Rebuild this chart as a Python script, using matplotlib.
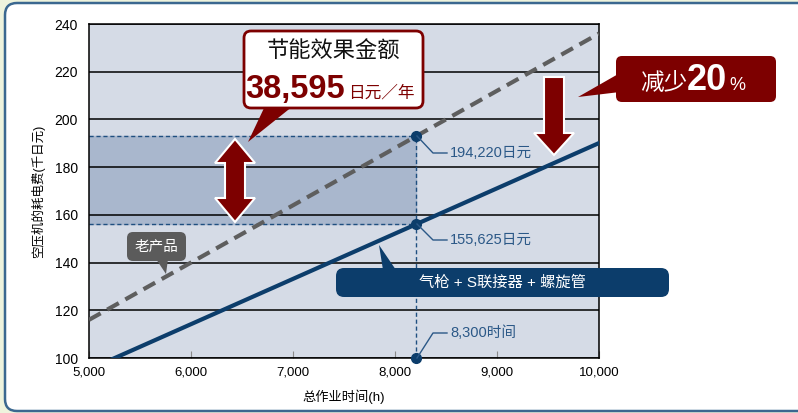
import matplotlib.pyplot as plt
from matplotlib.patches import FancyBboxPatch, Polygon

plt.rcParams['font.family'] = ['Liberation Sans', 'Noto Sans CJK SC']

# data
hours = [5000, 10000]
old_cost = [116, 236]        # 老产品 (千日元)
new_cost = [95.2, 190.1]     # 气枪 + S联接器 + 螺旋管
mark_hour = 8210             # where the 8,300h marker is drawn
mark_old = 193.2
mark_new = 156.0
x_ticks = [5000, 6000, 7000, 8000, 9000, 10000]
x_labels = ['5,000', '6,000', '7,000', '8,000', '9,000', '10,000']
y_ticks = [100, 120, 140, 160, 180, 200, 220, 240]

navy = '#0c3d6b'
red = '#7d0000'
lbl = '#2b5887'

fig = plt.figure(figsize=(7.98, 4.13), dpi=100)
fig.patch.set_facecolor('#eef3dd')

# background frame (pixel coords)
bg = fig.add_axes([0, 0, 1, 1], zorder=0)
bg.set_xlim(0, 798)
bg.set_ylim(413, 0)
bg.axis('off')
bg.add_patch(FancyBboxPatch((5, 3), 810, 408, boxstyle='round,pad=0,rounding_size=12',
                            fc='white', ec='#3b6890', lw=1.8))

ax = fig.add_axes([89/798, 55/413, 510/798, 334/413], zorder=1)
ax.set_facecolor('#d5dbe6')
ax.set_xlim(5000, 10000)
ax.set_ylim(100, 240)
ax.set_axisbelow(True)
ax.yaxis.grid(True, color='black', lw=1.1)
for s in ax.spines.values():
    s.set_color('black')
    s.set_linewidth(1.1)

# shaded saving band
ax.fill_between([5000, mark_hour], mark_new, mark_old, color='#a9b7cd', zorder=0.2)
ax.plot([5000, mark_hour], [mark_old, mark_old], color='#1f4f80', lw=1, dashes=(3, 2), zorder=2)
ax.plot([5000, mark_hour], [mark_new, mark_new], color='#1f4f80', lw=1, dashes=(3, 2), zorder=2)
ax.plot([mark_hour, mark_hour], [100, mark_old], color='#1f4f80', lw=1, dashes=(3, 2), zorder=2)

ax.plot(hours, old_cost, color='#5e5e5e', lw=3, dashes=(3.2, 1.8), zorder=3)
ax.plot(hours, new_cost, color=navy, lw=3, zorder=3)
ax.plot([mark_hour] * 3, [mark_old, mark_new, 100], 'o', color=navy, ms=7,
        clip_on=False, zorder=4)

ax.set_xticks(x_ticks)
ax.set_xticklabels(x_labels, fontsize=9.5)
ax.set_yticks(y_ticks)
ax.set_yticklabels([str(v) for v in y_ticks], fontsize=10)
ax.tick_params(axis='x', direction='in', length=5, color='#8a8a8a', pad=6)
ax.tick_params(axis='y', length=0, pad=8)
ax.set_xlabel('总作业时间(h)', fontsize=9.5, labelpad=8)
ax.set_ylabel('空压机的耗电费(千日元)', fontsize=9, labelpad=7)

# overlay for callouts (pixel coords)
ov = fig.add_axes([0, 0, 1, 1], zorder=2)
ov.set_xlim(0, 798)
ov.set_ylim(413, 0)
ov.axis('off')

# leader labels
for y0, y1, txt in [(136, 153, '194,220日元'), (224, 240, '155,625日元'), (358, 333, '8,300时间')]:
    ov.plot([417, 433, 447], [y0, y1, y1], color=lbl, lw=1)
    ov.text(450, y1, txt, color=lbl, fontsize=10.5, va='center', ha='left')

# saving callout
ov.add_patch(Polygon([(265, 106), (293, 106), (248, 142)], closed=True, fc=red, ec='none'))
ov.add_patch(FancyBboxPatch((244, 31), 179, 77, boxstyle='round,pad=0,rounding_size=7',
                            fc='white', ec=red, lw=2))
ov.text(334, 52, '节能效果金额', fontsize=16, ha='center', va='center', color='#111111')
ov.text(245, 98, '38,595', fontsize=23.5, fontweight='bold', color=red, ha='left', va='baseline')
ov.text(348, 98, '日元／年', fontsize=12, color=red, ha='left', va='baseline')

# double arrow
ov.add_patch(Polygon([(235, 139), (255, 163), (245, 163), (245, 198), (255, 198), (235, 222),
                      (215, 198), (225, 198), (225, 163), (215, 163)],
                     closed=True, fc=red, ec='white', lw=1.5))

# down arrow
ov.add_patch(Polygon([(544, 77), (564, 77), (564, 133), (574, 133), (554, 155), (534, 133),
                      (544, 133)], closed=True, fc=red, ec='white', lw=1.5))

# 减少20% box
ov.add_patch(Polygon([(620, 73), (620, 92), (578, 97)], closed=True, fc=red, ec='none'))
ov.add_patch(FancyBboxPatch((616, 56), 160, 46, boxstyle='round,pad=0,rounding_size=6',
                            fc=red, ec='none'))
ov.text(640, 90, '减少', fontsize=17, color='white', ha='left', va='baseline')
ov.text(687, 90, '20', fontsize=26, fontweight='bold', color='white', ha='left', va='baseline')
ov.text(729, 90, '%', fontsize=13, color='white', ha='left', va='baseline')

# 老产品 box
ov.add_patch(Polygon([(156, 259), (168, 259), (166, 274)], closed=True, fc='#5b5b5b', ec='none'))
ov.add_patch(FancyBboxPatch((127, 232), 59, 29, boxstyle='round,pad=0,rounding_size=6',
                            fc='#5b5b5b', ec='none'))
ov.text(156, 247, '老产品', fontsize=10.5, color='white', ha='center', va='center')

# new product box
ov.add_patch(Polygon([(383, 270), (396, 270), (379, 245)], closed=True, fc=navy, ec='none'))
ov.add_patch(FancyBboxPatch((336, 268), 333, 29, boxstyle='round,pad=0,rounding_size=8',
                            fc=navy, ec='none'))
ov.text(502, 283, '气枪 + S联接器 + 螺旋管', fontsize=11, color='white', ha='center', va='center')

fig.savefig('out.png', dpi=100, facecolor=fig.get_facecolor())
